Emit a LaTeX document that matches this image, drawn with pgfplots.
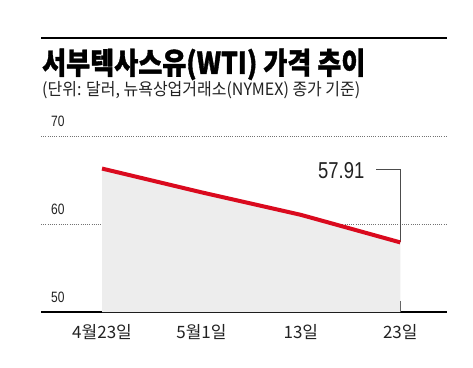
\documentclass[border=0pt]{standalone}
\usepackage{pgfplots}
\pgfplotsset{compat=1.18}
\usepackage{fontspec}
\setmainfont{Liberation Sans}
\newfontfamily\kr[FakeStretch=0.94]{Noto Sans CJK KR}
\newfontfamily\krtick[FakeStretch=1.0]{Noto Sans CJK KR}
\newfontfamily\krt[FakeStretch=0.87, FakeBold=1.2]{Noto Sans CJK KR}
\newfontfamily\narrow[FakeStretch=0.8]{Liberation Sans}
\definecolor{linered}{HTML}{DA0A1E}
\definecolor{fillgray}{HTML}{EDEDED}
\definecolor{txt}{HTML}{222222}
\begin{document}
\begin{tikzpicture}
\useasboundingbox (0pt,0pt) rectangle (473pt,367pt);
\fill[white] (0pt,0pt) rectangle (473pt,367pt);
\draw[line width=2pt] (41pt,329pt) -- (447pt,329pt);
\node[anchor=base west, inner sep=0pt, font=\krt\bfseries\fontsize{30}{32}\selectfont] at (42pt,293pt) {서부텍사스유(WTI) 가격 추이};
\node[anchor=base west, inner sep=0pt, font=\kr\fontsize{17}{19}\selectfont, text=txt] at (42pt,271.5pt) {(단위: 달러, 뉴욕상업거래소(NYMEX) 종가 기준)};
\begin{axis}[
  at={(41pt,55pt)}, anchor=south west,
  width=406pt, height=176pt, scale only axis,
  xmin=-0.614, xmax=3.47, ymin=50, ymax=70,
  clip=false,
  axis x line=bottom, axis y line=none,
  x axis line style={-, line width=1.3pt, black},
  ytick=\empty,
  xtick={0,1,2,3},
  xticklabels={4월23일, 5월1일, 13일, 23일},
  tick align=inside,
  major tick length=11pt,
  xtick style={line width=0.7pt, color=black!60},
  xticklabel style={font=\krtick\fontsize{17}{19}\selectfont, text=txt, inner sep=0pt, anchor=north, yshift=-12pt},
]
\draw[line width=0.8pt, dash pattern=on 1pt off 1.2pt, black!55] (axis cs:-0.614,70) -- (axis cs:3.47,70);
\draw[line width=0.8pt, dash pattern=on 1pt off 1.2pt, black!55] (axis cs:-0.614,60) -- (axis cs:3.47,60);
\addplot[fill=fillgray, draw=none] coordinates {(0,66.30) (1,63.60) (2,61.04) (3,57.91)} \closedcycle;
\draw[line width=0.7pt, black!60] (axis cs:3,50) -- (axis cs:3,51.25);
\draw[line width=0.7pt, black!70] (axis cs:2.76,66.25) -- (axis cs:3,66.25) -- (axis cs:3,57.91);
\addplot[linered, line width=4pt] coordinates {(0,66.30) (1,63.60) (2,61.04) (3,57.91)};
\node[anchor=south west, inner sep=0pt, font=\narrow\fontsize{15}{16}\selectfont, text=txt] at (axis cs:-0.614,70) [xshift=10pt, yshift=9pt] {70};
\node[anchor=south west, inner sep=0pt, font=\narrow\fontsize{15}{16}\selectfont, text=txt] at (axis cs:-0.614,60) [xshift=10pt, yshift=9pt] {60};
\node[anchor=south west, inner sep=0pt, font=\narrow\fontsize{15}{16}\selectfont, text=txt] at (axis cs:-0.614,50) [xshift=10pt, yshift=9pt] {50};
\node[anchor=east, inner sep=0pt, font=\narrow\fontsize{23}{24}\selectfont, text=txt] at (axis cs:2.64,66.1) {57.91};
\end{axis}
\end{tikzpicture}
\end{document}
